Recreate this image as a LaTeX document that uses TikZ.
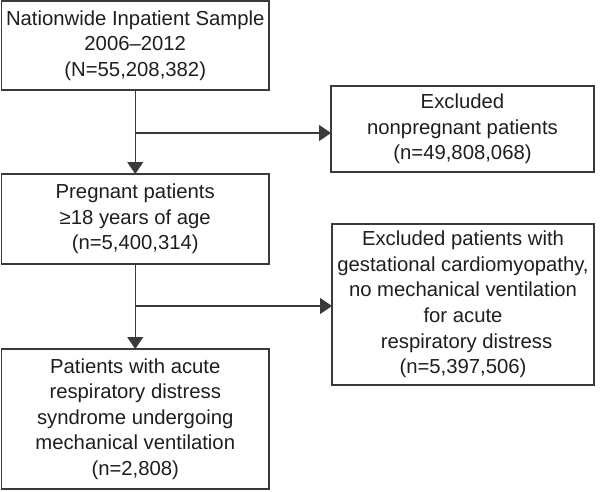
\documentclass[tikz,border=0pt]{standalone}
\usepackage{fontspec}
\setmainfont{Liberation Sans}
\usetikzlibrary{arrows.meta}
\definecolor{linec}{HTML}{3A3A3A}
\definecolor{textc}{HTML}{1E1E1E}
\begin{document}
\begin{tikzpicture}[x=1pt,y=-1pt,
  box/.style={draw=linec, line width=1.8pt, rectangle, inner sep=0pt, outer sep=0pt,
    align=center, text=textc, font=\fontsize{20.3pt}{25.6pt}\selectfont},
  conn/.style={draw=linec, line width=1.3pt},
  arr/.style={conn, -{Triangle[width=16pt,length=12pt]}}]
\useasboundingbox (0,0) rectangle (600,491);
\node[box, minimum width=267.5pt, minimum height=89pt] (b1) at (135.25,45.5)
  {Nationwide Inpatient Sample\\2006--2012\\(N=55,208,382)};
\node[box, minimum width=267.5pt, minimum height=90pt] (b2) at (135.25,219)
  {Pregnant patients\\≥18 years of age\\(n=5,400,314)};
\node[box, minimum width=267.5pt, minimum height=140pt] (b3) at (135.25,419)
  {Patients with acute\\respiratory distress\\syndrome undergoing\\mechanical ventilation\\(n=2,808)};
\node[box, minimum width=263pt, minimum height=86pt] (e1) at (462.5,129)
  {Excluded\\nonpregnant patients\\(n=49,808,068)};
\node[box, minimum width=262pt, minimum height=161pt] (e2) at (463,304.5)
  {Excluded patients with\\gestational cardiomyopathy,\\no mechanical ventilation\\for acute\\\hspace*{0.35em}respiratory distress\\(n=5,397,506)};
\coordinate (j1) at (135.25,133);
\coordinate (j2) at (135.25,306);
\draw[arr] (b1.south) -- (b2.north);
\draw[arr] (b2.south) -- (b3.north);
\draw[arr] (j1) -- (j1 -| e1.west);
\draw[arr] (j2) -- (j2 -| e2.west);
\end{tikzpicture}
\end{document}
